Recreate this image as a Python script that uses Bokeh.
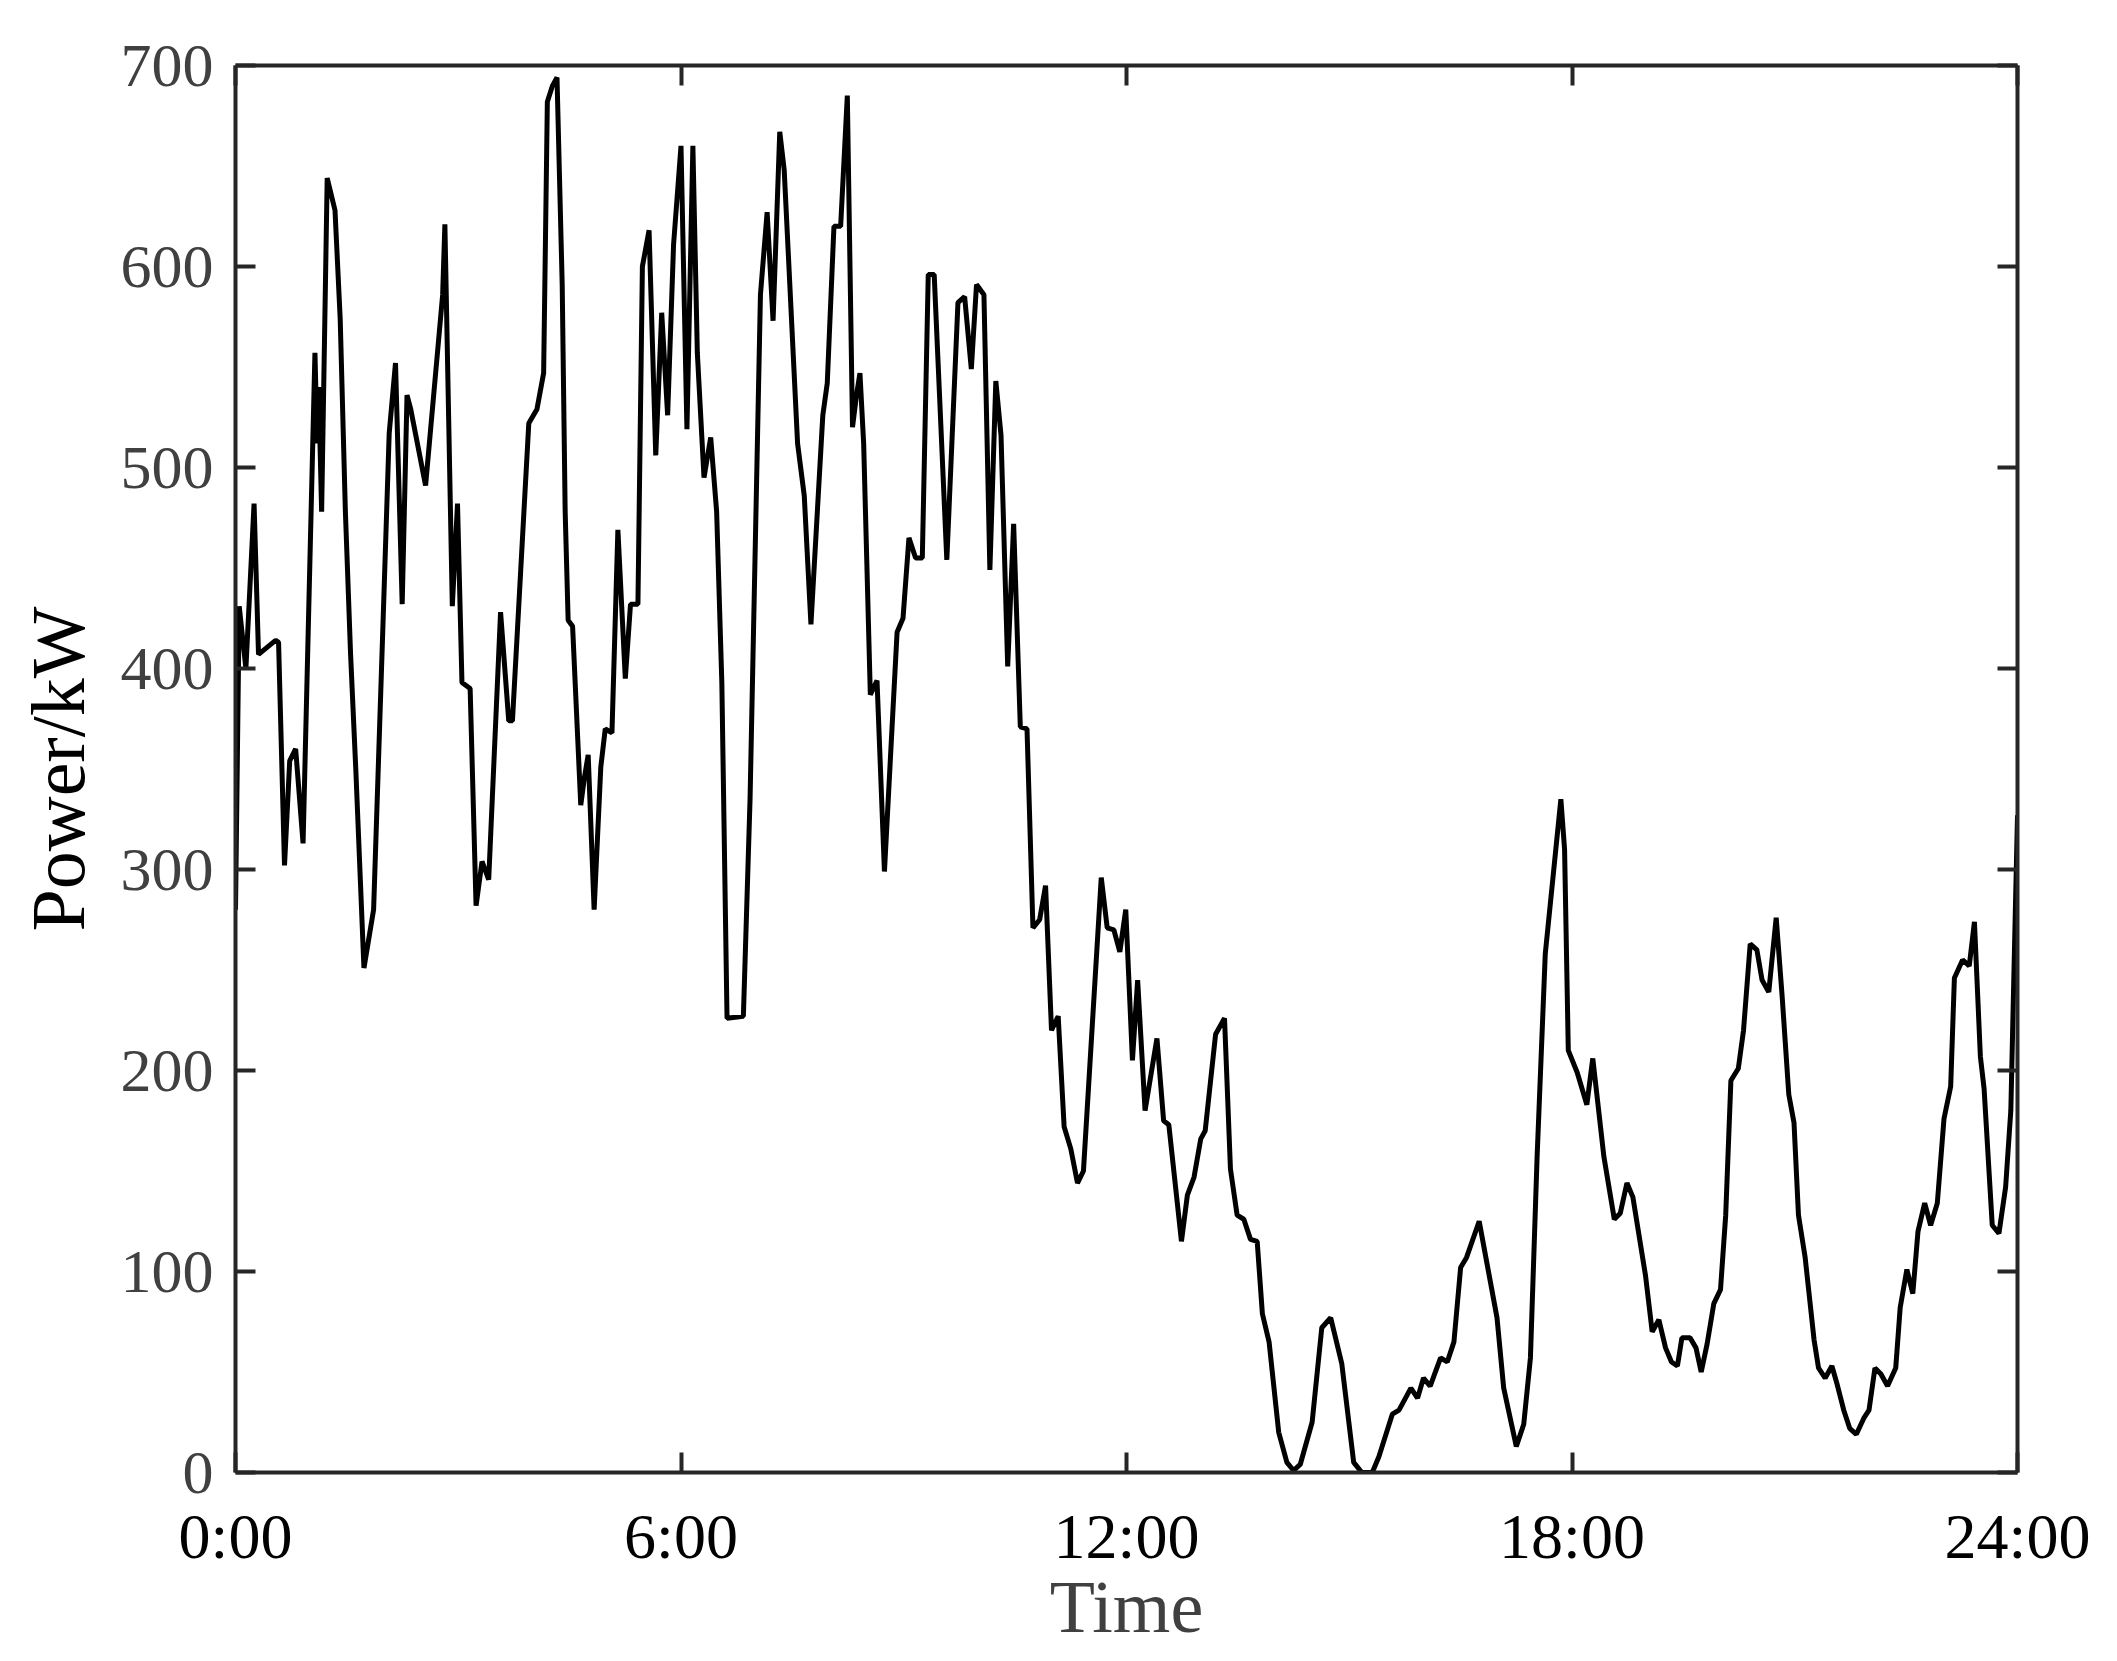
from bokeh.plotting import figure
from bokeh.models import LinearAxis, FixedTicker, Range1d
from bokeh.embed import file_html
from bokeh.resources import INLINE

hours = [0.00, 0.05, 0.14, 0.25, 0.31, 0.54, 0.58, 0.66, 0.73, 0.81, 0.91, 1.07, 1.10, 1.12, 1.16,
         1.235, 1.34, 1.41, 1.48, 1.55, 1.62, 1.73, 1.86, 1.98, 2.07, 2.155, 2.245, 2.31, 2.36, 2.56,
         2.79, 2.82, 2.92, 2.99, 3.05, 3.16, 3.24, 3.32, 3.41, 3.57, 3.68, 3.73, 3.95, 4.06, 4.15,
         4.20, 4.27, 4.33, 4.40, 4.44, 4.48, 4.54, 4.65, 4.70, 4.75, 4.83, 4.92, 4.98, 5.07, 5.15,
         5.25, 5.32, 5.42, 5.48, 5.57, 5.66, 5.74, 5.82, 5.90, 6.00, 6.08, 6.16, 6.22, 6.31, 6.40,
         6.48, 6.55, 6.62, 6.84, 6.93, 7.07, 7.16, 7.24, 7.33, 7.39, 7.57, 7.66, 7.75, 7.91, 7.97,
         8.06, 8.15, 8.24, 8.31, 8.36, 8.41, 8.46, 8.55, 8.64, 8.74, 8.91, 8.99, 9.07, 9.16, 9.25,
         9.33, 9.41, 9.58, 9.73, 9.82, 9.91, 9.98, 10.08, 10.16, 10.24, 10.31, 10.40, 10.48, 10.57,
         10.66, 10.74, 10.83, 10.91, 10.99, 11.08, 11.16, 11.25, 11.34, 11.42, 11.66, 11.74, 11.83,
         11.91, 11.99, 12.08, 12.15, 12.25, 12.41, 12.50, 12.57, 12.74, 12.82, 12.91, 13.00, 13.06,
         13.20, 13.32, 13.40, 13.49, 13.58, 13.67, 13.76, 13.83, 13.92, 14.05, 14.16, 14.25, 14.34,
         14.50, 14.63, 14.75, 14.90, 15.06, 15.17, 15.31, 15.40, 15.58, 15.67, 15.83, 15.92, 16.00,
         16.09, 16.23, 16.32, 16.41, 16.50, 16.58, 16.75, 16.86, 16.99, 17.08, 17.25, 17.35, 17.44,
         17.53, 17.64, 17.76, 17.85, 17.90, 17.95, 18.07, 18.20, 18.28, 18.43, 18.57, 18.65, 18.74,
         18.82, 18.99, 19.08, 19.17, 19.26, 19.34, 19.42, 19.48, 19.59, 19.67, 19.74, 19.82, 19.91,
         20.00, 20.07, 20.14, 20.24, 20.31, 20.40, 20.49, 20.56, 20.65, 20.75, 20.83, 20.92, 20.99,
         21.05, 21.14, 21.26, 21.32, 21.41, 21.50, 21.57, 21.66, 21.74, 21.83, 21.93, 22.00, 22.08,
         22.16, 22.25, 22.36, 22.42, 22.51, 22.59, 22.66, 22.75, 22.83, 22.92, 23.01, 23.10, 23.15,
         23.26, 23.35, 23.42, 23.50, 23.55, 23.66, 23.75, 23.84, 23.91, 24.00]

power_kw = [280, 431, 400, 482, 407, 414, 413, 302, 354, 360, 313, 557, 512, 540, 478,
            644, 628, 574, 478, 407, 350, 251, 280, 415, 517, 552, 432, 536, 529, 491,
            586, 621, 431, 482, 393, 390, 282, 304, 295, 428, 374, 374, 522, 529, 547,
            682, 690, 694, 591, 478, 424, 421, 332, 346, 357, 280, 351, 370, 368, 469,
            395, 432, 432, 600, 618, 506, 577, 526, 611, 660, 519, 660, 557, 495, 515,
            478, 393, 226, 227, 335, 586, 627, 573, 667, 648, 512, 486, 422, 526, 542,
            620, 620, 685, 520, 535, 547, 512, 387, 394, 299, 418, 425, 465, 455, 455,
            596, 596, 454, 582, 585, 549, 591, 586, 449, 543, 516, 401, 472, 371,
            370, 271, 275, 292, 220, 227, 172, 161, 144, 150, 296, 271, 270,
            259, 280, 205, 245, 180, 216, 175, 173, 115, 138, 147, 166, 170,
            218, 226, 151, 128, 126, 116, 115, 79, 65, 20, 5, 1, 4,
            25, 72, 77, 54, 5, 0, 0, 8, 29, 31, 42, 37, 47,
            43, 57, 55, 65, 102, 107, 125, 103, 77, 42, 13, 24, 57,
            157, 258, 302, 335, 310, 210, 199, 183, 206, 157, 126, 129, 144,
            137, 98, 70, 76, 62, 55, 53, 67, 67, 62, 50, 64, 84,
            91, 128, 195, 201, 220, 263, 260, 245, 239, 276, 237, 188, 174,
            128, 107, 66, 52, 47, 53, 44, 31, 22, 19, 27, 31, 52,
            49, 43, 52, 82, 101, 89, 120, 134, 123, 134, 176, 192, 246,
            255, 252, 274, 207, 191, 123, 119, 142, 180, 327]

x_ticks = [0, 6, 12, 18, 24]
x_tick_labels = ["0:00", "6:00", "12:00", "18:00", "24:00"]
y_ticks = [0, 100, 200, 300, 400, 500, 600, 700]

FONT = "Liberation Serif"
AX = "#262626"

p = figure(width=2100, height=1656, x_range=Range1d(0, 24), y_range=Range1d(0, 700),
           output_backend="svg", toolbar_location=None,
           min_border_left=235, min_border_right=83, min_border_top=65, min_border_bottom=184)
p.line(hours, power_kw, line_color="black", line_width=5)
p.grid.visible = False
p.outline_line_color = None
p.background_fill_color = "white"
p.border_fill_color = "white"


def style_axis(ax, ticks):
    ax.ticker = FixedTicker(ticks=ticks)
    ax.axis_line_color = AX
    ax.axis_line_width = 4
    ax.major_tick_line_color = AX
    ax.major_tick_line_width = 4
    ax.major_tick_in = 20
    ax.major_tick_out = 0
    ax.minor_tick_line_color = None
    ax.major_label_text_font = FONT
    ax.axis_label_text_font = FONT
    ax.axis_label_text_font_style = "normal"


xa = p.xaxis[0]
style_axis(xa, x_ticks)
xa.major_label_overrides = {t: l for t, l in zip(x_ticks, x_tick_labels)}
xa.major_label_text_font_size = "64px"
xa.major_label_text_color = "black"
xa.major_label_standoff = 28
xa.axis_label = "Time"
xa.axis_label_text_font_size = "74px"
xa.axis_label_text_color = "#404040"
xa.axis_label_standoff = -9

ya = p.yaxis[0]
style_axis(ya, y_ticks)
ya.major_label_text_font_size = "62px"
ya.major_label_text_color = "#404040"
ya.major_label_standoff = 22
ya.axis_label = "Power/kW"
ya.axis_label_text_font_size = "76px"
ya.axis_label_text_color = "black"
ya.axis_label_standoff = 18

top = LinearAxis()
style_axis(top, x_ticks)
top.major_label_text_font_size = "1px"
top.major_label_text_color = None
top.major_label_standoff = 0
p.add_layout(top, "above")

right = LinearAxis()
style_axis(right, y_ticks)
right.major_label_text_font_size = "1px"
right.major_label_text_color = None
right.major_label_standoff = 0
p.add_layout(right, "right")

open("out.html", "w").write(file_html(p, INLINE))
